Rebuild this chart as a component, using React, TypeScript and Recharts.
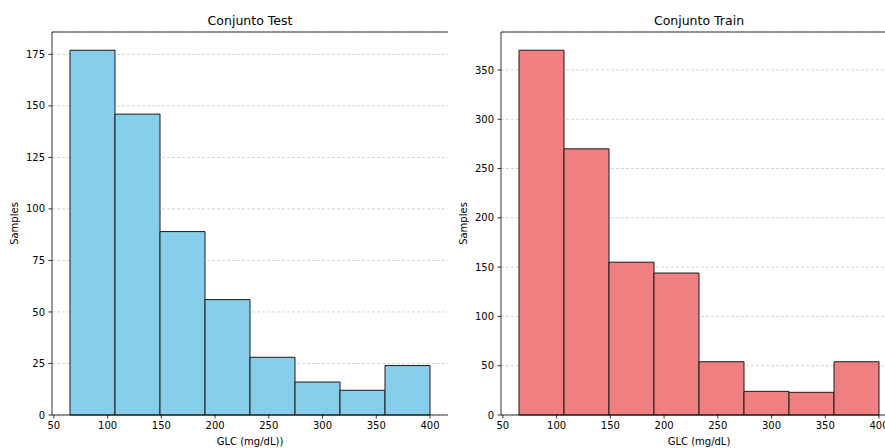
import {
  BarChart,
  Bar,
  XAxis,
  YAxis,
  CartesianGrid,
  ReferenceLine,
} from "recharts";

// ── Data ──────────────────────────────────────────────────────────────────────

const BIN_EDGES = [65, 106.875, 148.75, 190.625, 232.5, 274.375, 316.25, 358.125, 400];
const TEST_COUNTS = [177, 146, 89, 56, 28, 16, 12, 24];
const TRAIN_COUNTS = [370, 270, 155, 144, 54, 24, 23, 54];

const X_TICKS = [50, 100, 150, 200, 250, 300, 350, 400];
const TEST_Y_TICKS = [0, 25, 50, 75, 100, 125, 150, 175];
const TRAIN_Y_TICKS = [0, 50, 100, 150, 200, 250, 300, 350];

// ── Helpers ───────────────────────────────────────────────────────────────────

const FONT = "'DejaVu Sans', sans-serif";
const X_PAD = (BIN_EDGES[BIN_EDGES.length - 1] - BIN_EDGES[0]) * 0.05;
const X_DOMAIN: [number, number] = [BIN_EDGES[0] - X_PAD, BIN_EDGES[BIN_EDGES.length - 1] + X_PAD];

function toRows(counts: number[]) {
  return counts.map((count, i) => ({
    mid: (BIN_EDGES[i] + BIN_EDGES[i + 1]) / 2,
    count,
  }));
}

const tickStyle = { fontSize: 10, fill: "#000", fontFamily: FONT };

// ── Panel ─────────────────────────────────────────────────────────────────────

interface PanelProps {
  title: string;
  xLabel: string;
  counts: number[];
  yTicks: number[];
  fill: string;
  left: number;
  yAxisWidth: number;
  rightMargin: number;
  labelOffset: number;
}

function Panel({ title, xLabel, counts, yTicks, fill, left, yAxisWidth, rightMargin, labelOffset }: PanelProps) {
  const data = toRows(counts);
  const yMax = Math.max(...counts) * 1.05;
  const width = 460;
  const plotLeft = yAxisWidth;
  const plotWidth = width - yAxisWidth - rightMargin;

  return (
    <div style={{ position: "absolute", left, top: 0, width, height: 448 }}>
      <div
        style={{
          position: "absolute",
          left: plotLeft,
          width: plotWidth,
          top: 13,
          lineHeight: "16px",
          textAlign: "center",
          fontSize: 12.5,
          fontFamily: FONT,
          color: "#000",
        }}
      >
        {title}
      </div>
      <BarChart
        width={width}
        height={448}
        data={data}
        margin={{ top: 32, right: rightMargin, bottom: 3, left: 0 }}
        barCategoryGap={0}
        barGap={0}
      >
        <CartesianGrid vertical={false} stroke="#c8c8c8" strokeDasharray="3 2" strokeWidth={0.8} />
        <XAxis
          dataKey="mid"
          type="number"
          domain={X_DOMAIN}
          ticks={X_TICKS}
          allowDataOverflow
          height={30}
          tickSize={3.5}
          tickMargin={3.5}
          tick={tickStyle}
          stroke="#000"
          strokeWidth={0.8}
          label={{ value: xLabel, position: "insideBottom", offset: 0, fontSize: 10, fill: "#000", fontFamily: FONT }}
        />
        <YAxis
          type="number"
          domain={[0, yMax]}
          ticks={yTicks}
          width={yAxisWidth}
          tickSize={3.5}
          tickMargin={3.5}
          tick={tickStyle}
          stroke="#000"
          strokeWidth={0.8}
          label={{
            value: "Samples",
            angle: -90,
            position: "insideLeft",
            offset: labelOffset,
            fontSize: 10,
            fill: "#000",
            fontFamily: FONT,
            style: { textAnchor: "middle" },
          }}
        />
        <YAxis
          yAxisId="right"
          orientation="right"
          width={0}
          tick={false}
          tickLine={false}
          stroke="#000"
          strokeWidth={0.8}
        />
        <Bar dataKey="count" fill={fill} stroke="#1a1a1a" strokeWidth={1} isAnimationActive={false} />
        {/* top spine */}
        <ReferenceLine y={yMax} stroke="#000" strokeWidth={0.8} ifOverflow="visible" />
      </BarChart>
    </div>
  );
}

// ── App ───────────────────────────────────────────────────────────────────────

export default function App() {
  return (
    <div
      style={{
        position: "absolute",
        left: 0,
        top: 0,
        width: 885,
        height: 448,
        overflow: "hidden",
        background: "#fff",
      }}
    >
      <Panel
        title="Conjunto Test"
        xLabel="GLC (mg/dL))"
        counts={TEST_COUNTS}
        yTicks={TEST_Y_TICKS}
        fill="#87CEEB"
        left={0}
        yAxisWidth={52}
        rightMargin={12}
        labelOffset={14}
      />
      <Panel
        title="Conjunto Train"
        xLabel="GLC (mg/dL)"
        counts={TRAIN_COUNTS}
        yTicks={TRAIN_Y_TICKS}
        fill="#F08080"
        left={450}
        yAxisWidth={51}
        rightMargin={13}
        labelOffset={13}
      />
    </div>
  );
}
